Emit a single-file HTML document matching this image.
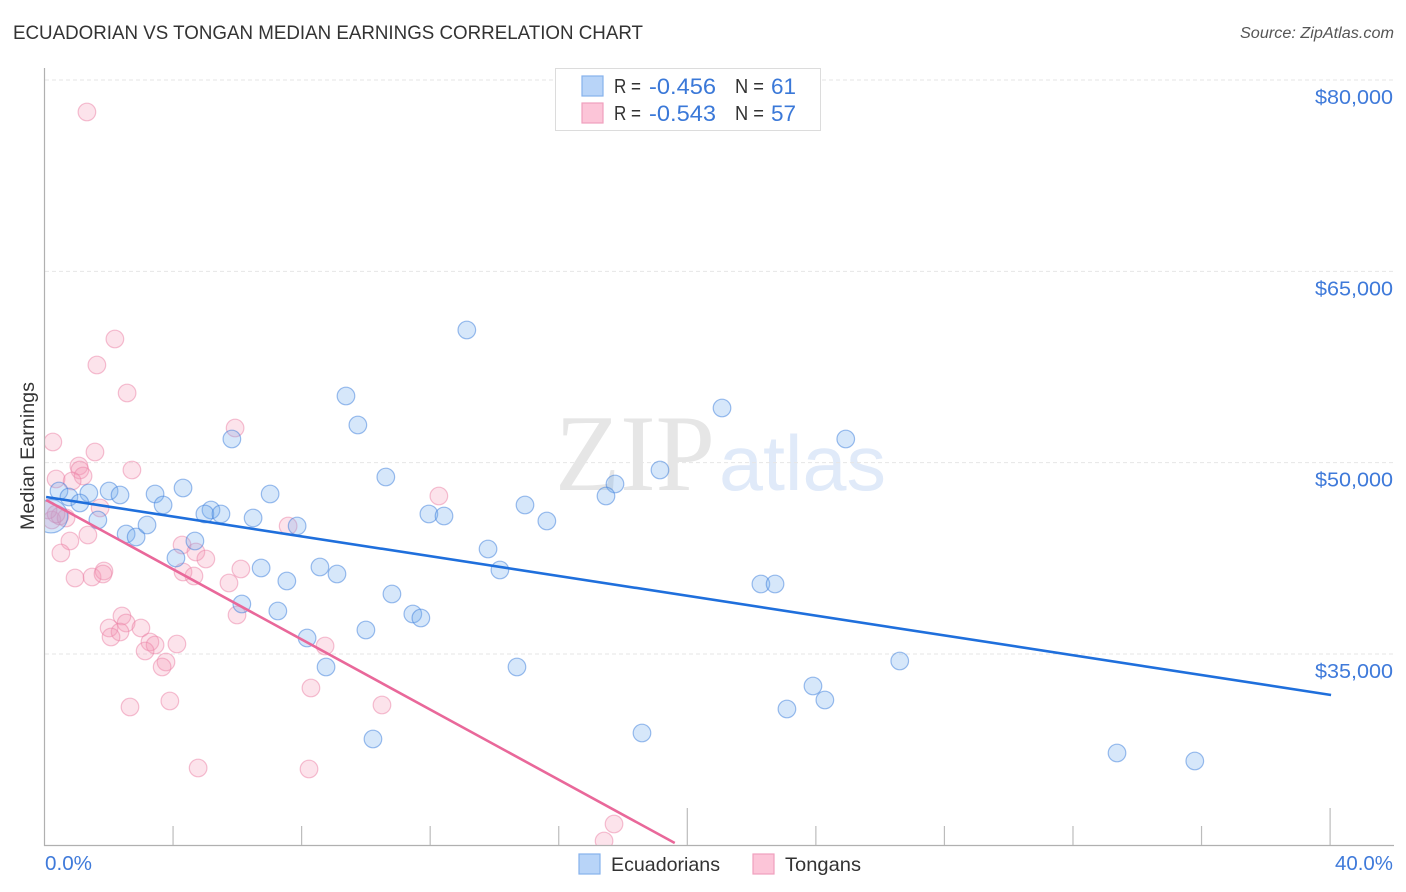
<!DOCTYPE html>
<html>
<head>
<meta charset="utf-8">
<title>Ecuadorian vs Tongan Median Earnings Correlation Chart</title>
<style>
html,body{margin:0;padding:0;background:#fff;width:1406px;height:892px;overflow:hidden}
svg{display:block}
text{font-family:"Liberation Sans",sans-serif}
</style>
</head>
<body>
<svg id="chart" xmlns="http://www.w3.org/2000/svg" width="1406" height="892" viewBox="0 0 1406 892">
  <defs>
    <clipPath id="plot-clip"><rect x="45" y="68" width="1348" height="777"/></clipPath>
  </defs>
  <text x="13" y="39" font-size="19.5" fill="#333" textLength="630" lengthAdjust="spacingAndGlyphs">ECUADORIAN VS TONGAN MEDIAN EARNINGS CORRELATION CHART</text>
  <text x="1394" y="38" font-size="15.5" font-style="italic" fill="#555" text-anchor="end" textLength="154" lengthAdjust="spacingAndGlyphs">Source: ZipAtlas.com</text>
  <g>
    <text x="555" y="490" font-size="109" fill="#e6e6e6" textLength="160" lengthAdjust="spacingAndGlyphs" style="font-family:'Liberation Serif',serif">ZIP</text>
    <text x="719" y="490" font-size="78" fill="#e0eaf9" textLength="167" lengthAdjust="spacingAndGlyphs">atlas</text>
  </g>
  <g id="grid"></g>
  <g id="axes"></g>
  <g id="marks" clip-path="url(#plot-clip)"></g>
  <text transform="translate(34,456) rotate(-90)" font-size="19.5" fill="#333" text-anchor="middle" textLength="148" lengthAdjust="spacingAndGlyphs">Median Earnings</text>

  <g>
    <rect x="555.5" y="68.5" width="265" height="62" fill="#fff" stroke="#dcdcdc"/>
    <rect x="582" y="76" width="21" height="20" fill="#b8d4f8" stroke="#86b2ec" stroke-width="1.2"/>
    <rect x="582" y="103" width="21" height="20" fill="#fcc5d8" stroke="#f0a0bd" stroke-width="1.2"/>
    <text x="614" y="93" font-size="20" fill="#333" textLength="27" lengthAdjust="spacingAndGlyphs">R =</text>
    <text x="649" y="94" font-size="22.5" fill="#3a78d8" textLength="67" lengthAdjust="spacingAndGlyphs">-0.456</text>
    <text x="735" y="93" font-size="20" fill="#333" textLength="29" lengthAdjust="spacingAndGlyphs">N =</text>
    <text x="796" y="94" font-size="22.5" fill="#3a78d8" text-anchor="end">61</text>
    <text x="614" y="120" font-size="20" fill="#333" textLength="27" lengthAdjust="spacingAndGlyphs">R =</text>
    <text x="649" y="121" font-size="22.5" fill="#3a78d8" textLength="67" lengthAdjust="spacingAndGlyphs">-0.543</text>
    <text x="735" y="120" font-size="20" fill="#333" textLength="29" lengthAdjust="spacingAndGlyphs">N =</text>
    <text x="796" y="121" font-size="22.5" fill="#3a78d8" text-anchor="end">57</text>
  </g>

  <g>
    <rect x="579" y="854" width="21" height="20" fill="#b8d4f8" stroke="#86b2ec" stroke-width="1.2"/>
    <text x="611" y="871" font-size="19.5" fill="#333" textLength="109" lengthAdjust="spacingAndGlyphs">Ecuadorians</text>
    <rect x="753" y="854" width="21" height="20" fill="#fcc5d8" stroke="#f0a0bd" stroke-width="1.2"/>
    <text x="785" y="871" font-size="19.5" fill="#333" textLength="76" lengthAdjust="spacingAndGlyphs">Tongans</text>
  </g>
</svg>
<script>
const ecuadorianX = [13.14,9.38,9.75,21.08,24.93,5.83,19.15,10.62,17.75,17.47,0.45,0.76,1.38,2.01,2.35,1.10,3.44,4.31,3.69,7.02,5.18,4.99,5.49,6.49,14.95,11.96,12.43,15.63,1.66,2.54,2.85,3.19,7.86,4.68,4.09,13.80,6.74,8.57,7.54,9.10,14.17,10.81,22.29,22.73,6.14,7.26,11.46,11.71,10.00,8.17,8.76,14.70,26.61,23.91,24.28,23.10,18.59,10.22,33.37,35.79,0.20];
const ecuadorianY = [60400,55226,52952,54285,51854,51854,49424,48875,48326,47386,47778,47307,47621,47778,47464,46837,47542,48013,46680,47542,46288,45974,45974,45661,46680,45974,45818,45426,45504,44406,44171,45112,45034,43858,42525,43230,41741,41819,40722,41270,41584,39702,40486,40486,38918,38370,38134,37821,36880,36253,33979,33979,34450,32490,31392,30686,28805,28334,27237,26610,45800];
const ecuadorianWeight = [1,1,1,1,1,1,1,1,1,1,1,1,1,1,1,1,1,1,1,1,1,1,1,1,1,1,1,1,1,1,1,1,1,1,1,1,1,1,1,1,1,1,1,1,1,1,1,1,1,1,1,1,1,1,1,1,1,1,1,1,1.9];
const tonganX = [1.32,2.19,1.63,2.57,5.93,0.26,1.57,1.07,1.10,1.20,0.36,0.86,2.72,1.73,1.35,0.79,0.51,0.95,1.48,1.85,1.82,4.28,4.71,5.02,4.31,4.65,5.74,6.11,5.99,7.58,8.73,2.41,2.54,2.01,2.35,2.07,3.00,3.28,3.44,3.13,4.12,3.78,3.66,3.90,2.66,8.29,10.50,4.78,8.23,17.72,17.41,12.27,0.23,0.48,0.67,0.11,0.36];
const tonganY = [77491,59694,57656,55461,52717,51619,50835,49738,49424,48954,48718,48562,49424,46445,44328,43858,42917,40957,41035,41506,41270,43544,42995,42446,41427,41114,40565,41662,38056,45034,35626,37978,37429,37037,36723,36331,37037,35939,35704,35234,35782,34371,33979,31314,30843,32333,31000,26061,25982,21670,20338,47386,45504,45818,45661,46288,45974];
const ecuadorianTrendX = [0.05,40.03];
const ecuadorianTrendY = [47307,31784];
const tonganTrendX = [0.05,19.61];
const tonganTrendY = [47072,20181];
const yTickValues = [80000,65000,50000,35000];
const yTickLabels = ["$80,000","$65,000","$50,000","$35,000"];
const xTickValues = [0,4,8,12,16,20,24,28,32,36,40];
const xEdgeLabels = ["0.0%","40.0%"];

const NS = "http://www.w3.org/2000/svg";
function xScale(v){ return 44.5 + v * 32.14; }
function yScale(v){ return 80 + (80000 - v) / 78.4; }
function make(tag, attrs, parent){
  const el = document.createElementNS(NS, tag);
  for (const k in attrs) el.setAttribute(k, attrs[k]);
  parent.appendChild(el);
  return el;
}
const gridG = document.getElementById("grid");
const axesG = document.getElementById("axes");
const marksG = document.getElementById("marks");

yTickValues.forEach(function(v, i){
  const y = yScale(v);
  const line = make("line", {x1:45, x2:1393, y1:y, y2:y, stroke:"#e6e6e6", "stroke-width":1, "stroke-dasharray":"4 3"}, gridG);
  
  
  const label = make("text", {x:1393, y:y+24, "font-size":20.5, fill:"#3f7ada", "text-anchor":"end", textLength:78, lengthAdjust:"spacingAndGlyphs"}, axesG);
  label.textContent = yTickLabels[i];
  
  
});

const yAxis = make("line", {x1:44.5, x2:44.5, y1:68, y2:846, stroke:"#b0b0b0", "stroke-width":1.2}, axesG);


const xAxis = make("line", {x1:44, x2:1394, y1:845.5, y2:845.5, stroke:"#b0b0b0", "stroke-width":1.2}, axesG);



xTickValues.forEach(function(v){
  if (v === 0) return;
  const x = xScale(v);
  const top = (v === 20 || v === 40) ? 808 : 826;
  const tick = make("line", {x1:x, x2:x, y1:top, y2:845, stroke:"#bcbcbc", "stroke-width":1.2}, axesG);
  
  
});

const xLabelLeft = make("text", {x:45, y:870, "font-size":20.5, fill:"#3f7ada", textLength:47, lengthAdjust:"spacingAndGlyphs"}, axesG);
xLabelLeft.textContent = xEdgeLabels[0];


const xLabelRight = make("text", {x:1393, y:870, "font-size":20.5, fill:"#3f7ada", "text-anchor":"end", textLength:58, lengthAdjust:"spacingAndGlyphs"}, axesG);
xLabelRight.textContent = xEdgeLabels[1];



tonganX.forEach(function(v, i){
  const dot = make("circle", {cx:xScale(v), cy:yScale(tonganY[i]), r:8.8, fill:"rgba(245,150,180,0.27)", stroke:"rgba(235,130,165,0.5)", "stroke-width":1.2}, marksG);
  
  
});
ecuadorianX.forEach(function(v, i){
  const dot = make("circle", {cx:xScale(v), cy:yScale(ecuadorianY[i]), r:8.8*ecuadorianWeight[i], fill:"rgba(120,175,240,0.3)", stroke:"rgba(60,125,220,0.5)", "stroke-width":1.2}, marksG);
  
  
});

const blueTrend = make("line", {x1:xScale(ecuadorianTrendX[0]), y1:yScale(ecuadorianTrendY[0]), x2:xScale(ecuadorianTrendX[1]), y2:yScale(ecuadorianTrendY[1]), stroke:"#1f6fdc", "stroke-width":2.6}, marksG);


const pinkTrend = make("line", {x1:xScale(tonganTrendX[0]), y1:yScale(tonganTrendY[0]), x2:xScale(tonganTrendX[1]), y2:yScale(tonganTrendY[1]), stroke:"#e9689a", "stroke-width":2.6}, marksG);


</script>
</body>
</html>
